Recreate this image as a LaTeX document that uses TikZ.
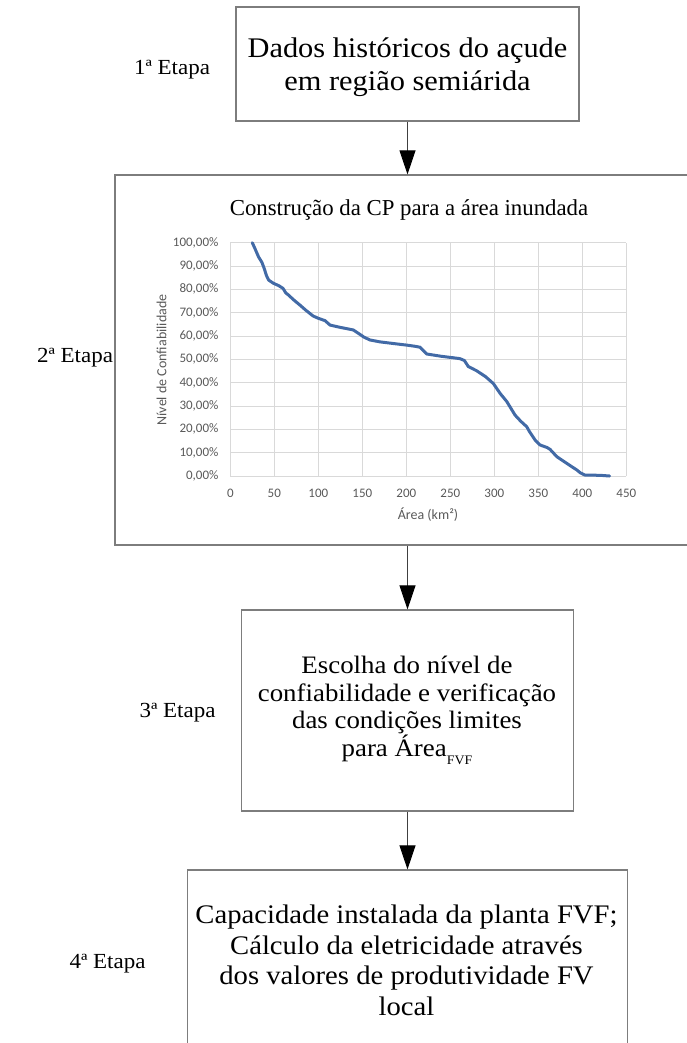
\documentclass[tikz,border=0pt]{standalone}
\usepackage{fontspec}
\setmainfont{Liberation Serif}
\newfontfamily\boxfont[FakeStretch=1.07]{Liberation Serif}
\newfontfamily\chartfont{Carlito}
\usetikzlibrary{arrows.meta}
\definecolor{framegray}{RGB}{125,125,125}
\definecolor{gridgray}{RGB}{217,217,217}
\definecolor{labelgray}{RGB}{89,89,89}
\definecolor{curveblue}{RGB}{66,106,166}
\begin{document}
\begin{tikzpicture}[x=1bp,y=-1bp,
  stepbox/.style={draw=framegray, line width=1.2bp, inner sep=0pt, rectangle},
  flow/.style={draw=black!75, line width=0.9bp, -{Triangle[length=24bp,width=16bp,black]}},
  stagelab/.style={anchor=base, inner sep=0pt, font=\fontsize{21.5bp}{24bp}\boxfont},
  txta/.style={anchor=base, inner sep=0pt, font=\fontsize{28.4bp}{33bp}\boxfont},
  txtc/.style={anchor=base, inner sep=0pt, font=\fontsize{25.1bp}{28bp}\boxfont},
  txtd/.style={anchor=base, inner sep=0pt, font=\fontsize{26.8bp}{31bp}\boxfont},
  charttitle/.style={anchor=base, inner sep=0pt, font=\fontsize{22.8bp}{26bp}\selectfont},
  gridline/.style={draw=gridgray, line width=0.9bp},
  ticklab/.style={inner sep=0pt, text=labelgray, font=\fontsize{13bp}{15bp}\chartfont},
  axislab/.style={inner sep=0pt, text=labelgray, font=\fontsize{14bp}{16bp}\chartfont},
  curve/.style={draw=curveblue, line width=3bp, line join=round, line cap=round}]
\useasboundingbox (0,0) rectangle (687,1043);

% boxes
\node[stepbox, minimum width=343bp, minimum height=114bp] (b1) at (407.5,64) {};
\node[stepbox, minimum width=585bp, minimum height=370bp] (b2) at (407.5,360) {};
\node[stepbox, minimum width=332bp, minimum height=201bp] (b3) at (407.5,710.5) {};
\node[stepbox, minimum width=440bp, minimum height=200bp] (b4) at (407.5,970) {};

% connectors
\draw[flow] (b1.south) -- (b2.north);
\draw[flow] (b2.south) -- (b3.north);
\draw[flow] (b3.south) -- (b4.north);

% stage labels
\node[stagelab] (s1) at (172,74) {1ª Etapa};
\node[stagelab] (s2) at (75,362) {2ª Etapa};
\node[stagelab] (s3) at (177.5,717) {3ª Etapa};
\node[stagelab] (s4) at (107.5,968) {4ª Etapa};

% box 1 text
\node[txta] (t1a) at (407.5,57) {Dados históricos do açude};
\node[txta] (t1b) at (407.5,90) {em região semiárida};

% box 3 text
\node[txtc] (t3a) at (407,673) {Escolha do nível de};
\node[txtc] (t3b) at (407,701) {confiabilidade e verificação};
\node[txtc] (t3c) at (407,728) {das condições limites};
\node[txtc] (t3d) at (407,756) {para Área\raisebox{-0.32em}{\fontsize{13bp}{14bp}\boxfont FVF}};

% box 4 text
\node[txtd] (t4a) at (406.5,923) {Capacidade instalada da planta FVF;};
\node[txtd] (t4b) at (406.5,954) {Cálculo da eletricidade através};
\node[txtd] (t4c) at (406.5,984) {dos valores de produtividade FV};
\node[txtd] (t4d) at (406.5,1015) {local};

% chart
\node[charttitle] (ct) at (409,215) {Construção da CP para a área inundada};
\node[axislab, rotate=90] (yt) at (161.5,360) {Nível de Confiabilidade};
\node[axislab] (xt) at (428,515) {Área (km²)};

\begin{scope}[shift={(230.3,476)}, x=0.88bp, y=2.333bp]
  \foreach \p in {0,10,...,100} {
    \draw[gridline] (0,\p) -- (450,\p);
    \node[ticklab, anchor=east] (yl\p) at (-13.3,\p) {\p,00\%};
  }
  \foreach \a in {0,50,...,450} {
    \draw[gridline] (\a,0) -- (\a,100);
    \node[ticklab] (xl\a) at (\a,-7.3) {\a};
  }
  \draw[curve] plot coordinates {(25,100) (28,97.5) (32,94) (36,91.5) (38.5,89) (41,86) (43.5,84) (49,82.6) (55,81.6) (60,80.4) (63,78.5) (66,77.6) (72,75.5) (79,73.3) (86,71) (94,68.6) (100,67.6) (107.6,66.6) (113.3,64.7) (125,63.7) (139.8,62.6) (145,61.3) (152,59.5) (158.8,58.3) (170,57.5) (185,56.8) (200.5,56.1) (210,55.6) (215.6,55.2) (223.2,52.3) (240,51.3) (253,50.7) (261,50.3) (266,49.5) (270.5,46.9) (280,45.1) (290,42.6) (299,39.6) (306.6,35.4) (314.2,31.9) (323.6,26.1) (330,23.5) (336.9,21.1) (340,19) (346.4,15.4) (352,13.3) (360,12.2) (363.4,11.4) (371,8.3) (382.4,5.4) (393.7,2.6) (398,1.3) (403,0.4) (420,0.3) (431,0)};
\end{scope}
\end{tikzpicture}
\end{document}
